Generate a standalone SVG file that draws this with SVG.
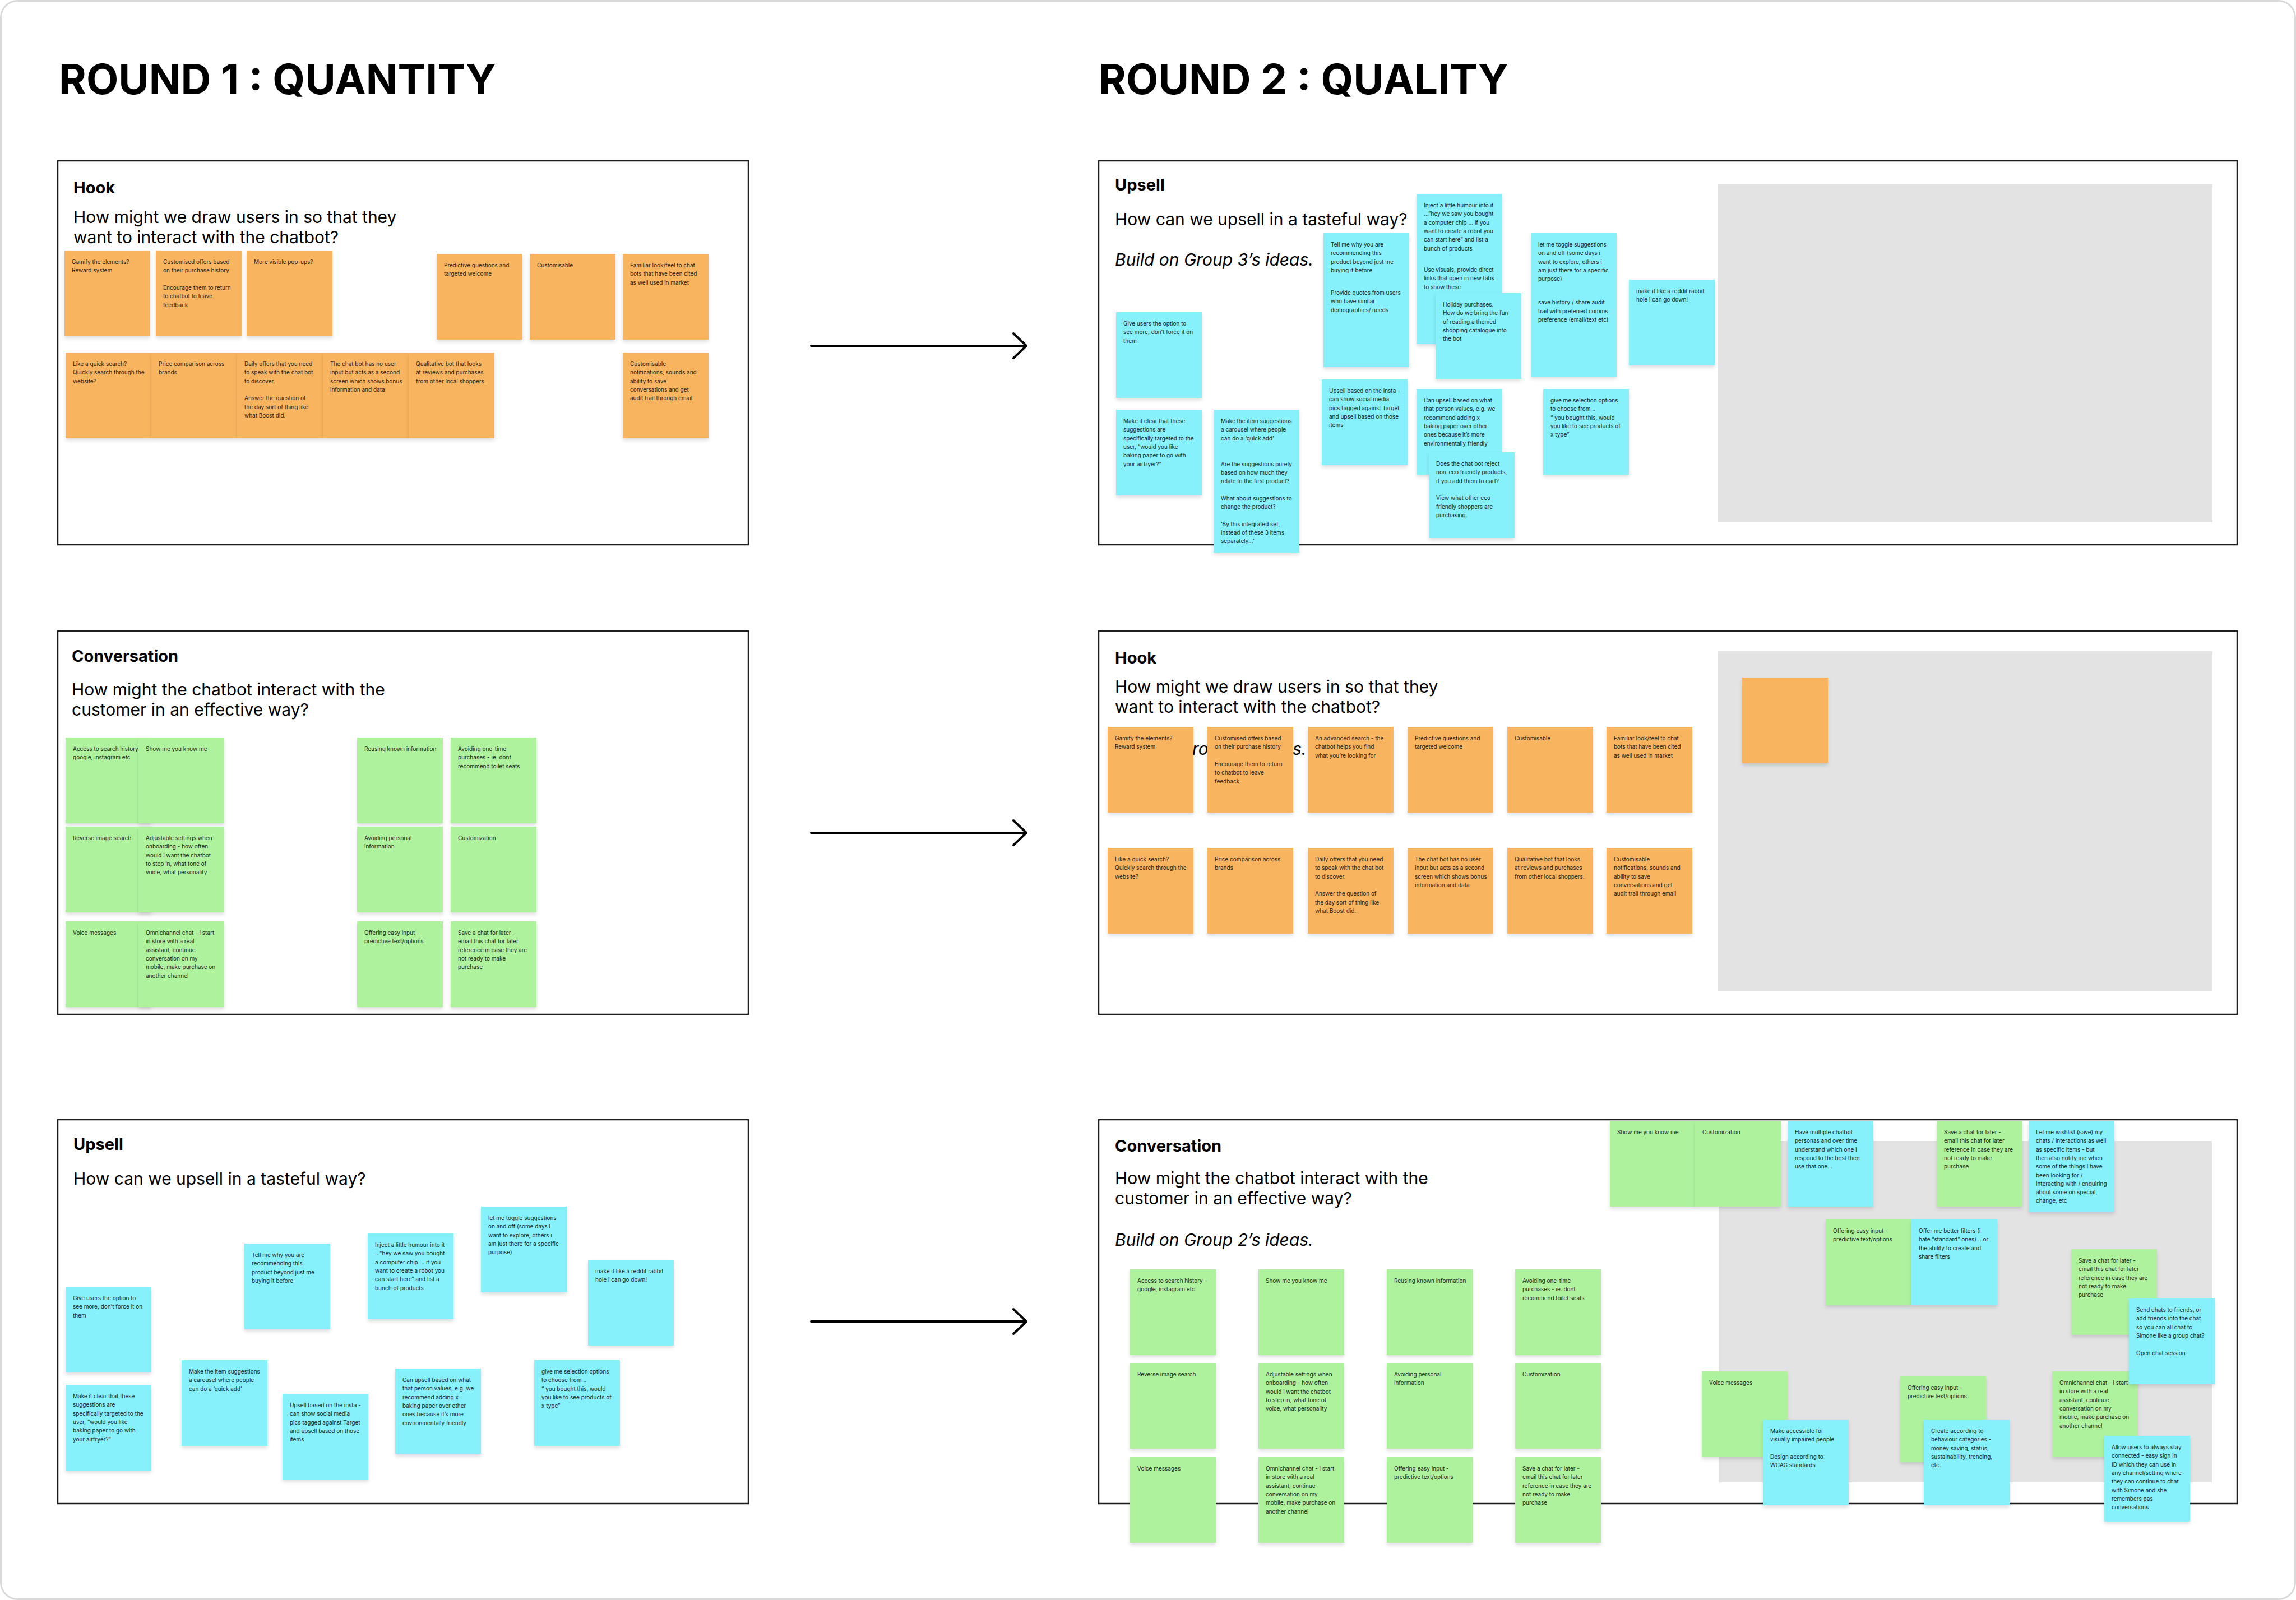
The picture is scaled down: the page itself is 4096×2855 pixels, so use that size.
<svg xmlns="http://www.w3.org/2000/svg" width="4096" height="2855" viewBox="0 0 4096 2855">
<style>
.t{font-family:Inter,'Liberation Sans',sans-serif;font-size:10px;fill:#1e1e1e}
.o{fill:#F9B45F;filter:url(#sh)}
.g{fill:#AFF29E;filter:url(#sh)}
.c{fill:#86F0FB;filter:url(#sh)}
.panel{fill:#fff;stroke:#1e1e1e;stroke-width:2.5}
.gray{fill:#E3E3E3}
.h{font-family:Inter,'Liberation Sans',sans-serif;font-size:29px;font-weight:700;fill:#000}
.q{font-family:Inter,'Liberation Sans',sans-serif;font-size:30px;fill:#000}
.qi{font-family:Inter,'Liberation Sans',sans-serif;font-size:30px;font-style:italic;fill:#000}
.title{font-family:Inter,'Liberation Sans',sans-serif;font-size:74px;font-weight:700;fill:#000}
.arrow{fill:none;stroke:#000;stroke-width:4;stroke-linecap:round;marker-end:url(#ah)}
</style>
<defs>
<filter id="sh" x="-10%" y="-10%" width="120%" height="130%">
<feDropShadow dx="0" dy="4" stdDeviation="3" flood-color="#000" flood-opacity="0.13"/>
</filter>
<marker id="ah" markerUnits="userSpaceOnUse" markerWidth="40" markerHeight="60" refX="30" refY="30" orient="auto" viewBox="0 0 40 60">
<path d="M7,8 L30,30 L7,52" fill="none" stroke="#000" stroke-width="4" stroke-linecap="round" stroke-linejoin="round"/>
</marker>
</defs>
<rect x="1.5" y="1.5" width="4093" height="2852" rx="30" fill="#fff" stroke="#d9d9d9" stroke-width="3"/>

<text class="title" x="105" y="168" textLength="780" lengthAdjust="spacingAndGlyphs">ROUND 1 : QUANTITY</text>
<text class="title" x="1960" y="168" textLength="731" lengthAdjust="spacingAndGlyphs">ROUND 2 : QUALITY</text>

<g id="connectors">
<path class="arrow" d="M1447,617 L1831,617"/>
<path class="arrow" d="M1447,1486 L1831,1486"/>
<path class="arrow" d="M1447,2358 L1831,2358"/>
</g>

<!-- ===== LEFT TOP: HOOK ===== -->
<g id="panel-l1">
<rect class="panel" x="103" y="287" width="1232" height="685"/>
<text class="h" x="131" y="345">Hook</text>
<text class="q" x="131" y="398">How might we draw users in so that they<tspan x="131" dy="36">want to interact with the chatbot?</tspan></text>
</g>
<g id="l1-n1"><rect class="o" x="115" y="447" width="153" height="153"/><text class="t" x="128" y="471">Gamify the elements?<tspan x="128" dy="15.3">Reward system</tspan></text></g>
<g id="l1-n2"><rect class="o" x="278" y="447" width="153" height="153"/><text class="t" x="291" y="471">Customised offers based<tspan x="291" dy="15.3">on their purchase history</tspan><tspan x="291" dy="30.6">Encourage them to return</tspan><tspan x="291" dy="15.3">to chatbot to leave</tspan><tspan x="291" dy="15.3">feedback</tspan></text></g>
<g id="l1-n3"><rect class="o" x="440" y="447" width="153" height="153"/><text class="t" x="453" y="471">More visible pop-ups?</text></g>
<g id="l1-n4"><rect class="o" x="779" y="453" width="153" height="153"/><text class="t" x="792" y="477">Predictive questions and<tspan x="792" dy="15.3">targeted welcome</tspan></text></g>
<g id="l1-n5"><rect class="o" x="945" y="453" width="153" height="153"/><text class="t" x="958" y="477">Customisable</text></g>
<g id="l1-n6"><rect class="o" x="1111" y="453" width="153" height="153"/><text class="t" x="1124" y="477">Familiar look/feel to chat<tspan x="1124" dy="15.3">bots that have been cited</tspan><tspan x="1124" dy="15.3">as well used in market</tspan></text></g>
<g id="l1-n7"><rect class="o" x="117" y="629" width="153" height="153"/><text class="t" x="130" y="653">Like a quick search?<tspan x="130" dy="15.3">Quickly search through the</tspan><tspan x="130" dy="15.3">website?</tspan></text></g>
<g id="l1-n8"><rect class="o" x="270" y="629" width="153" height="153"/><text class="t" x="283" y="653">Price comparison across<tspan x="283" dy="15.3">brands</tspan></text></g>
<g id="l1-n9"><rect class="o" x="423" y="629" width="153" height="153"/><text class="t" x="436" y="653">Daily offers that you need<tspan x="436" dy="15.3">to speak with the chat bot</tspan><tspan x="436" dy="15.3">to discover.</tspan><tspan x="436" dy="30.6">Answer the question of</tspan><tspan x="436" dy="15.3">the day sort of thing like</tspan><tspan x="436" dy="15.3">what Boost did.</tspan></text></g>
<g id="l1-n10"><rect class="o" x="576" y="629" width="153" height="153"/><text class="t" x="589" y="653">The chat bot has no user<tspan x="589" dy="15.3">input but acts as a second</tspan><tspan x="589" dy="15.3">screen which shows bonus</tspan><tspan x="589" dy="15.3">information and data</tspan></text></g>
<g id="l1-n11"><rect class="o" x="729" y="629" width="153" height="153"/><text class="t" x="742" y="653">Qualitative bot that looks<tspan x="742" dy="15.3">at reviews and purchases</tspan><tspan x="742" dy="15.3">from other local shoppers.</tspan></text></g>
<g id="l1-n12"><rect class="o" x="1111" y="629" width="153" height="153"/><text class="t" x="1124" y="653">Customisable<tspan x="1124" dy="15.3">notifications, sounds and</tspan><tspan x="1124" dy="15.3">ability to save</tspan><tspan x="1124" dy="15.3">conversations and get</tspan><tspan x="1124" dy="15.3">audit trail through email</tspan></text></g>

<!-- ===== LEFT MID: CONVERSATION ===== -->
<g id="panel-l2">
<rect class="panel" x="103" y="1126" width="1232" height="684"/>
<text class="h" x="128" y="1181">Conversation</text>
<text class="q" x="128" y="1241">How might the chatbot interact with the<tspan x="128" dy="36">customer in an effective way?</tspan></text>
</g>
<g id="l2-n1"><rect class="g" x="117" y="1316" width="153" height="153"/><text class="t" x="130" y="1340">Access to search history -<tspan x="130" dy="15.3">google, instagram etc</tspan></text></g>
<g id="l2-n2"><rect class="g" x="247" y="1316" width="153" height="153"/><text class="t" x="260" y="1340">Show me you know me</text></g>
<g id="l2-n3"><rect class="g" x="117" y="1475" width="153" height="153"/><text class="t" x="130" y="1499">Reverse image search</text></g>
<g id="l2-n4"><rect class="g" x="247" y="1475" width="153" height="153"/><text class="t" x="260" y="1499">Adjustable settings when<tspan x="260" dy="15.3">onboarding - how often</tspan><tspan x="260" dy="15.3">would i want the chatbot</tspan><tspan x="260" dy="15.3">to step in, what tone of</tspan><tspan x="260" dy="15.3">voice, what personality</tspan></text></g>
<g id="l2-n5"><rect class="g" x="117" y="1644" width="153" height="153"/><text class="t" x="130" y="1668">Voice messages</text></g>
<g id="l2-n6"><rect class="g" x="247" y="1644" width="153" height="153"/><text class="t" x="260" y="1668">Omnichannel chat - i start<tspan x="260" dy="15.3">in store with a real</tspan><tspan x="260" dy="15.3">assistant, continue</tspan><tspan x="260" dy="15.3">conversation on my</tspan><tspan x="260" dy="15.3">mobile, make purchase on</tspan><tspan x="260" dy="15.3">another channel</tspan></text></g>
<g id="l2-n7"><rect class="g" x="637" y="1316" width="153" height="153"/><text class="t" x="650" y="1340">Reusing known information</text></g>
<g id="l2-n8"><rect class="g" x="804" y="1316" width="153" height="153"/><text class="t" x="817" y="1340">Avoiding one-time<tspan x="817" dy="15.3">purchases - ie. dont</tspan><tspan x="817" dy="15.3">recommend toilet seats</tspan></text></g>
<g id="l2-n9"><rect class="g" x="637" y="1475" width="153" height="153"/><text class="t" x="650" y="1499">Avoiding personal<tspan x="650" dy="15.3">information</tspan></text></g>
<g id="l2-n10"><rect class="g" x="804" y="1475" width="153" height="153"/><text class="t" x="817" y="1499">Customization</text></g>
<g id="l2-n11"><rect class="g" x="637" y="1644" width="153" height="153"/><text class="t" x="650" y="1668">Offering easy input -<tspan x="650" dy="15.3">predictive text/options</tspan></text></g>
<g id="l2-n12"><rect class="g" x="804" y="1644" width="153" height="153"/><text class="t" x="817" y="1668">Save a chat for later -<tspan x="817" dy="15.3">email this chat for later</tspan><tspan x="817" dy="15.3">reference in case they are</tspan><tspan x="817" dy="15.3">not ready to make</tspan><tspan x="817" dy="15.3">purchase</tspan></text></g>

<!-- ===== LEFT BOTTOM: UPSELL ===== -->
<g id="panel-l3">
<rect class="panel" x="103" y="1998" width="1232" height="685"/>
<text class="h" x="131" y="2052">Upsell</text>
<text class="q" x="131" y="2114">How can we upsell in a tasteful way?</text>
</g>
<g id="l3-n1"><rect class="c" x="117" y="2296" width="153" height="153"/><text class="t" x="130" y="2320">Give users the option to<tspan x="130" dy="15.3">see more, don’t force it on</tspan><tspan x="130" dy="15.3">them</tspan></text></g>
<g id="l3-n2"><rect class="c" x="117" y="2471" width="153" height="153"/><text class="t" x="130" y="2495">Make it clear that these<tspan x="130" dy="15.3">suggestions are</tspan><tspan x="130" dy="15.3">specifically targeted to the</tspan><tspan x="130" dy="15.3">user, “would you like</tspan><tspan x="130" dy="15.3">baking paper to go with</tspan><tspan x="130" dy="15.3">your airfryer?”</tspan></text></g>
<g id="l3-n3"><rect class="c" x="436" y="2219" width="153" height="153"/><text class="t" x="449" y="2243">Tell me why you are<tspan x="449" dy="15.3">recommending this</tspan><tspan x="449" dy="15.3">product beyond just me</tspan><tspan x="449" dy="15.3">buying it before</tspan></text></g>
<g id="l3-n4"><rect class="c" x="324" y="2427" width="153" height="153"/><text class="t" x="337" y="2451">Make the item suggestions<tspan x="337" dy="15.3">a carousel where people</tspan><tspan x="337" dy="15.3">can do a ‘quick add’</tspan></text></g>
<g id="l3-n5"><rect class="c" x="656" y="2201" width="153" height="153"/><text class="t" x="669" y="2225">Inject a little humour into it<tspan x="669" dy="15.3">...”hey we saw you bought</tspan><tspan x="669" dy="15.3">a computer chip ...  if you</tspan><tspan x="669" dy="15.3">want to create a robot you</tspan><tspan x="669" dy="15.3">can start here” and list a</tspan><tspan x="669" dy="15.3">bunch of products</tspan></text></g>
<g id="l3-n6"><rect class="c" x="504" y="2487" width="153" height="153"/><text class="t" x="517" y="2511">Upsell based on the insta -<tspan x="517" dy="15.3">can show social media</tspan><tspan x="517" dy="15.3">pics tagged against Target</tspan><tspan x="517" dy="15.3">and upsell based on those</tspan><tspan x="517" dy="15.3">items</tspan></text></g>
<g id="l3-n7"><rect class="c" x="858" y="2153" width="153" height="153"/><text class="t" x="871" y="2177">let me toggle suggestions<tspan x="871" dy="15.3">on and off (some days i</tspan><tspan x="871" dy="15.3">want to explore, others i</tspan><tspan x="871" dy="15.3">am just there for a specific</tspan><tspan x="871" dy="15.3">purpose)</tspan></text></g>
<g id="l3-n8"><rect class="c" x="705" y="2442" width="153" height="153"/><text class="t" x="718" y="2466">Can upsell based on what<tspan x="718" dy="15.3">that person values, e.g. we</tspan><tspan x="718" dy="15.3">recommend adding x</tspan><tspan x="718" dy="15.3">baking paper over other</tspan><tspan x="718" dy="15.3">ones because it’s more</tspan><tspan x="718" dy="15.3">environmentally friendly</tspan></text></g>
<g id="l3-n9"><rect class="c" x="1049" y="2248" width="153" height="153"/><text class="t" x="1062" y="2272">make it like a reddit rabbit<tspan x="1062" dy="15.3">hole i can go down!</tspan></text></g>
<g id="l3-n10"><rect class="c" x="953" y="2427" width="153" height="153"/><text class="t" x="966" y="2451">give me selection options<tspan x="966" dy="15.3">to choose from ..</tspan><tspan x="966" dy="15.3">“ you bought this, would</tspan><tspan x="966" dy="15.3">you like to see products of</tspan><tspan x="966" dy="15.3">x type”</tspan></text></g>

<!-- ===== RIGHT TOP: UPSELL ===== -->
<g id="panel-r1">
<rect class="panel" x="1960" y="287" width="2031" height="685"/>
<rect class="gray" x="3064" y="329" width="883" height="603"/>
<text class="h" x="1989" y="340">Upsell</text>
<text class="q" x="1989" y="402">How can we upsell in a tasteful way?</text>
<text class="qi" x="1989" y="474">Build on Group 3’s ideas.</text>
</g>
<g id="r1-n1"><rect class="c" x="1991" y="557" width="153" height="153"/><text class="t" x="2004" y="581">Give users the option to<tspan x="2004" dy="15.3">see more, don’t force it on</tspan><tspan x="2004" dy="15.3">them</tspan></text></g>
<g id="r1-n2"><rect class="c" x="1991" y="731" width="153" height="153"/><text class="t" x="2004" y="755">Make it clear that these<tspan x="2004" dy="15.3">suggestions are</tspan><tspan x="2004" dy="15.3">specifically targeted to the</tspan><tspan x="2004" dy="15.3">user, “would you like</tspan><tspan x="2004" dy="15.3">baking paper to go with</tspan><tspan x="2004" dy="15.3">your airfryer?”</tspan></text></g>
<g id="r1-n3"><rect class="c" x="2165" y="731" width="153" height="255"/><text class="t" x="2178" y="755">Make the item suggestions<tspan x="2178" dy="15.3">a carousel where people</tspan><tspan x="2178" dy="15.3">can do a ‘quick add’</tspan><tspan x="2178" dy="45.9">Are the suggestions purely</tspan><tspan x="2178" dy="15.3">based on how much they</tspan><tspan x="2178" dy="15.3">relate to the first product?</tspan><tspan x="2178" dy="30.6">What about suggestions to</tspan><tspan x="2178" dy="15.3">change the product?</tspan><tspan x="2178" dy="30.6">‘By this integrated set,</tspan><tspan x="2178" dy="15.3">instead of these 3 items</tspan><tspan x="2178" dy="15.3">separately...’</tspan></text></g>
<g id="r1-n4"><rect class="c" x="2361" y="416" width="153" height="239"/><text class="t" x="2374" y="440">Tell me why you are<tspan x="2374" dy="15.3">recommending this</tspan><tspan x="2374" dy="15.3">product beyond just me</tspan><tspan x="2374" dy="15.3">buying it before</tspan><tspan x="2374" dy="40.2">Provide quotes from users</tspan><tspan x="2374" dy="15.3">who have similar</tspan><tspan x="2374" dy="15.3">demographics/ needs</tspan></text></g>
<g id="r1-n5"><rect class="c" x="2358" y="677" width="153" height="153"/><text class="t" x="2371" y="701">Upsell based on the insta -<tspan x="2371" dy="15.3">can show social media</tspan><tspan x="2371" dy="15.3">pics tagged against Target</tspan><tspan x="2371" dy="15.3">and upsell based on those</tspan><tspan x="2371" dy="15.3">items</tspan></text></g>
<g id="r1-n6"><rect class="c" x="2527" y="346" width="153" height="268"/><text class="t" x="2540" y="370">Inject a little humour into it<tspan x="2540" dy="15.3">...”hey we saw you bought</tspan><tspan x="2540" dy="15.3">a computer chip ...  if you</tspan><tspan x="2540" dy="15.3">want to create a robot you</tspan><tspan x="2540" dy="15.3">can start here” and list a</tspan><tspan x="2540" dy="15.3">bunch of products</tspan><tspan x="2540" dy="38.4">Use visuals, provide direct</tspan><tspan x="2540" dy="15.3">links that open in new tabs</tspan><tspan x="2540" dy="15.3">to show these</tspan></text></g>
<g id="r1-n7"><rect class="c" x="2561" y="523" width="153" height="153"/><text class="t" x="2574" y="547">Holiday purchases.<tspan x="2574" dy="15.3">How do we bring the fun</tspan><tspan x="2574" dy="15.3">of reading a themed</tspan><tspan x="2574" dy="15.3">shopping catalogue into</tspan><tspan x="2574" dy="15.3">the bot</tspan></text></g>
<g id="r1-n8"><rect class="c" x="2527" y="694" width="153" height="153"/><text class="t" x="2540" y="718">Can upsell based on what<tspan x="2540" dy="15.3">that person values, e.g. we</tspan><tspan x="2540" dy="15.3">recommend adding x</tspan><tspan x="2540" dy="15.3">baking paper over other</tspan><tspan x="2540" dy="15.3">ones because it’s more</tspan><tspan x="2540" dy="15.3">environmentally friendly</tspan></text></g>
<g id="r1-n9"><rect class="c" x="2549" y="807" width="153" height="153"/><text class="t" x="2562" y="831">Does the chat bot reject<tspan x="2562" dy="15.3">non-eco friendly products,</tspan><tspan x="2562" dy="15.3">if you add them to cart?</tspan><tspan x="2562" dy="30.6">View what other eco-</tspan><tspan x="2562" dy="15.3">friendly shoppers are</tspan><tspan x="2562" dy="15.3">purchasing.</tspan></text></g>
<g id="r1-n10"><rect class="c" x="2731" y="416" width="153" height="256"/><text class="t" x="2744" y="440">let me toggle suggestions<tspan x="2744" dy="15.3">on and off (some days i</tspan><tspan x="2744" dy="15.3">want to explore, others i</tspan><tspan x="2744" dy="15.3">am just there for a specific</tspan><tspan x="2744" dy="15.3">purpose)</tspan><tspan x="2744" dy="42">save history / share audit</tspan><tspan x="2744" dy="15.3">trail with preferred comms</tspan><tspan x="2744" dy="15.3">preference (email/text etc)</tspan></text></g>
<g id="r1-n11"><rect class="c" x="2906" y="499" width="153" height="153"/><text class="t" x="2919" y="523">make it like a reddit rabbit<tspan x="2919" dy="15.3">hole i can go down!</tspan></text></g>
<g id="r1-n12"><rect class="c" x="2753" y="694" width="153" height="153"/><text class="t" x="2766" y="718">give me selection options<tspan x="2766" dy="15.3">to choose from ..</tspan><tspan x="2766" dy="15.3">“ you bought this, would</tspan><tspan x="2766" dy="15.3">you like to see products of</tspan><tspan x="2766" dy="15.3">x type”</tspan></text></g>

<!-- ===== RIGHT MID: HOOK ===== -->
<g id="panel-r2">
<rect class="panel" x="1960" y="1126" width="2031" height="684"/>
<rect class="gray" x="3064" y="1162" width="883" height="606"/>
<text class="h" x="1989" y="1184">Hook</text>
<text class="q" x="1989" y="1236">How might we draw users in so that they<tspan x="1989" dy="36">want to interact with the chatbot?</tspan></text>
<text class="qi" x="2127" y="1347">ro</text>
<text class="qi" x="2306" y="1347">s.</text>
</g>
<g id="r2-n1"><rect class="o" x="1976" y="1297" width="153" height="153"/><text class="t" x="1989" y="1321">Gamify the elements?<tspan x="1989" dy="15.3">Reward system</tspan></text></g>
<g id="r2-n2"><rect class="o" x="2154" y="1297" width="153" height="153"/><text class="t" x="2167" y="1321">Customised offers based<tspan x="2167" dy="15.3">on their purchase history</tspan><tspan x="2167" dy="30.6">Encourage them to return</tspan><tspan x="2167" dy="15.3">to chatbot to leave</tspan><tspan x="2167" dy="15.3">feedback</tspan></text></g>
<g id="r2-n3"><rect class="o" x="2333" y="1297" width="153" height="153"/><text class="t" x="2346" y="1321">An advanced search - the<tspan x="2346" dy="15.3">chatbot helps you find</tspan><tspan x="2346" dy="15.3">what you’re looking for</tspan></text></g>
<g id="r2-n4"><rect class="o" x="2511" y="1297" width="153" height="153"/><text class="t" x="2524" y="1321">Predictive questions and<tspan x="2524" dy="15.3">targeted welcome</tspan></text></g>
<g id="r2-n5"><rect class="o" x="2689" y="1297" width="153" height="153"/><text class="t" x="2702" y="1321">Customisable</text></g>
<g id="r2-n6"><rect class="o" x="2866" y="1297" width="153" height="153"/><text class="t" x="2879" y="1321">Familiar look/feel to chat<tspan x="2879" dy="15.3">bots that have been cited</tspan><tspan x="2879" dy="15.3">as well used in market</tspan></text></g>
<g id="r2-n7"><rect class="o" x="1976" y="1513" width="153" height="153"/><text class="t" x="1989" y="1537">Like a quick search?<tspan x="1989" dy="15.3">Quickly search through the</tspan><tspan x="1989" dy="15.3">website?</tspan></text></g>
<g id="r2-n8"><rect class="o" x="2154" y="1513" width="153" height="153"/><text class="t" x="2167" y="1537">Price comparison across<tspan x="2167" dy="15.3">brands</tspan></text></g>
<g id="r2-n9"><rect class="o" x="2333" y="1513" width="153" height="153"/><text class="t" x="2346" y="1537">Daily offers that you need<tspan x="2346" dy="15.3">to speak with the chat bot</tspan><tspan x="2346" dy="15.3">to discover.</tspan><tspan x="2346" dy="30.6">Answer the question of</tspan><tspan x="2346" dy="15.3">the day sort of thing like</tspan><tspan x="2346" dy="15.3">what Boost did.</tspan></text></g>
<g id="r2-n10"><rect class="o" x="2511" y="1513" width="153" height="153"/><text class="t" x="2524" y="1537">The chat bot has no user<tspan x="2524" dy="15.3">input but acts as a second</tspan><tspan x="2524" dy="15.3">screen which shows bonus</tspan><tspan x="2524" dy="15.3">information and data</tspan></text></g>
<g id="r2-n11"><rect class="o" x="2689" y="1513" width="153" height="153"/><text class="t" x="2702" y="1537">Qualitative bot that looks<tspan x="2702" dy="15.3">at reviews and purchases</tspan><tspan x="2702" dy="15.3">from other local shoppers.</tspan></text></g>
<g id="r2-n12"><rect class="o" x="2866" y="1513" width="153" height="153"/><text class="t" x="2879" y="1537">Customisable<tspan x="2879" dy="15.3">notifications, sounds and</tspan><tspan x="2879" dy="15.3">ability to save</tspan><tspan x="2879" dy="15.3">conversations and get</tspan><tspan x="2879" dy="15.3">audit trail through email</tspan></text></g>
<g id="r2-n13"><rect class="o" x="3108" y="1209" width="153" height="153"/></g>

<!-- ===== RIGHT BOTTOM: CONVERSATION ===== -->
<g id="panel-r3">
<rect class="panel" x="1960" y="1998" width="2031" height="685"/>
<rect class="gray" x="3066" y="2036" width="880" height="609"/>
<text class="h" x="1989" y="2055">Conversation</text>
<text class="q" x="1989" y="2113">How might the chatbot interact with the<tspan x="1989" dy="36">customer in an effective way?</tspan></text>
<text class="qi" x="1989" y="2223">Build on Group 2’s ideas.</text>
</g>
<g id="r3-n1"><rect class="g" x="2016" y="2265" width="153" height="153"/><text class="t" x="2029" y="2289">Access to search history -<tspan x="2029" dy="15.3">google, instagram etc</tspan></text></g>
<g id="r3-n2"><rect class="g" x="2245" y="2265" width="153" height="153"/><text class="t" x="2258" y="2289">Show me you know me</text></g>
<g id="r3-n3"><rect class="g" x="2474" y="2265" width="153" height="153"/><text class="t" x="2487" y="2289">Reusing known information</text></g>
<g id="r3-n4"><rect class="g" x="2703" y="2265" width="153" height="153"/><text class="t" x="2716" y="2289">Avoiding one-time<tspan x="2716" dy="15.3">purchases - ie. dont</tspan><tspan x="2716" dy="15.3">recommend toilet seats</tspan></text></g>
<g id="r3-n5"><rect class="g" x="2016" y="2432" width="153" height="153"/><text class="t" x="2029" y="2456">Reverse image search</text></g>
<g id="r3-n6"><rect class="g" x="2245" y="2432" width="153" height="153"/><text class="t" x="2258" y="2456">Adjustable settings when<tspan x="2258" dy="15.3">onboarding - how often</tspan><tspan x="2258" dy="15.3">would i want the chatbot</tspan><tspan x="2258" dy="15.3">to step in, what tone of</tspan><tspan x="2258" dy="15.3">voice, what personality</tspan></text></g>
<g id="r3-n7"><rect class="g" x="2474" y="2432" width="153" height="153"/><text class="t" x="2487" y="2456">Avoiding personal<tspan x="2487" dy="15.3">information</tspan></text></g>
<g id="r3-n8"><rect class="g" x="2703" y="2432" width="153" height="153"/><text class="t" x="2716" y="2456">Customization</text></g>
<g id="r3-n9"><rect class="g" x="2016" y="2600" width="153" height="153"/><text class="t" x="2029" y="2624">Voice messages</text></g>
<g id="r3-n10"><rect class="g" x="2245" y="2600" width="153" height="153"/><text class="t" x="2258" y="2624">Omnichannel chat - i start<tspan x="2258" dy="15.3">in store with a real</tspan><tspan x="2258" dy="15.3">assistant, continue</tspan><tspan x="2258" dy="15.3">conversation on my</tspan><tspan x="2258" dy="15.3">mobile, make purchase on</tspan><tspan x="2258" dy="15.3">another channel</tspan></text></g>
<g id="r3-n11"><rect class="g" x="2474" y="2600" width="153" height="153"/><text class="t" x="2487" y="2624">Offering easy input -<tspan x="2487" dy="15.3">predictive text/options</tspan></text></g>
<g id="r3-n12"><rect class="g" x="2703" y="2600" width="153" height="153"/><text class="t" x="2716" y="2624">Save a chat for later -<tspan x="2716" dy="15.3">email this chat for later</tspan><tspan x="2716" dy="15.3">reference in case they are</tspan><tspan x="2716" dy="15.3">not ready to make</tspan><tspan x="2716" dy="15.3">purchase</tspan></text></g>

<g id="r3-n13"><rect class="g" x="2872" y="2000" width="153" height="153"/><text class="t" x="2885" y="2024">Show me you know me</text></g>
<g id="r3-n14"><rect class="g" x="3024" y="2000" width="153" height="153"/><text class="t" x="3037" y="2024">Customization</text></g>
<g id="r3-n15"><rect class="c" x="3189" y="2000" width="153" height="153"/><text class="t" x="3202" y="2024">Have multiple chatbot<tspan x="3202" dy="15.3">personas and over time</tspan><tspan x="3202" dy="15.3">understand which one I</tspan><tspan x="3202" dy="15.3">respond to the best then</tspan><tspan x="3202" dy="15.3">use that one...</tspan></text></g>
<g id="r3-n16"><rect class="g" x="3455" y="2000" width="153" height="153"/><text class="t" x="3468" y="2024">Save a chat for later -<tspan x="3468" dy="15.3">email this chat for later</tspan><tspan x="3468" dy="15.3">reference in case they are</tspan><tspan x="3468" dy="15.3">not ready to make</tspan><tspan x="3468" dy="15.3">purchase</tspan></text></g>
<g id="r3-n17"><rect class="c" x="3619" y="2000" width="153" height="163"/><text class="t" x="3632" y="2024">Let me wishlist (save) my<tspan x="3632" dy="15.3">chats / interactions as well</tspan><tspan x="3632" dy="15.3">as specific items - but</tspan><tspan x="3632" dy="15.3">then also notify me when</tspan><tspan x="3632" dy="15.3">some of the things i have</tspan><tspan x="3632" dy="15.3">been looking for /</tspan><tspan x="3632" dy="15.3">interacting with / enquiring</tspan><tspan x="3632" dy="15.3">about some on special,</tspan><tspan x="3632" dy="15.3">change, etc</tspan></text></g>
<g id="r3-n18"><rect class="g" x="3257" y="2176" width="153" height="153"/><text class="t" x="3270" y="2200">Offering easy input -<tspan x="3270" dy="15.3">predictive text/options</tspan></text></g>
<g id="r3-n19"><rect class="c" x="3410" y="2176" width="153" height="153"/><text class="t" x="3423" y="2200">Offer me better filters (i<tspan x="3423" dy="15.3">hate “standard” ones) .. or</tspan><tspan x="3423" dy="15.3">the ability to create and</tspan><tspan x="3423" dy="15.3">share filters</tspan></text></g>
<g id="r3-n20"><rect class="g" x="3695" y="2229" width="153" height="153"/><text class="t" x="3708" y="2253">Save a chat for later -<tspan x="3708" dy="15.3">email this chat for later</tspan><tspan x="3708" dy="15.3">reference in case they are</tspan><tspan x="3708" dy="15.3">not ready to make</tspan><tspan x="3708" dy="15.3">purchase</tspan></text></g>
<g id="r3-n21"><rect class="g" x="3036" y="2447" width="153" height="153"/><text class="t" x="3049" y="2471">Voice messages</text></g>
<g id="r3-n22"><rect class="c" x="3145" y="2533" width="153" height="153"/><text class="t" x="3158" y="2557">Make accessible for<tspan x="3158" dy="15.3">visually impaired people</tspan><tspan x="3158" dy="30.6">Design according to</tspan><tspan x="3158" dy="15.3">WCAG standards</tspan></text></g>
<g id="r3-n23"><rect class="g" x="3390" y="2456" width="153" height="153"/><text class="t" x="3403" y="2480">Offering easy input -<tspan x="3403" dy="15.3">predictive text/options</tspan></text></g>
<g id="r3-n24"><rect class="c" x="3432" y="2533" width="153" height="153"/><text class="t" x="3445" y="2557">Create according to<tspan x="3445" dy="15.3">behaviour categories -</tspan><tspan x="3445" dy="15.3">money saving, status,</tspan><tspan x="3445" dy="15.3">sustainability, trending,</tspan><tspan x="3445" dy="15.3">etc.</tspan></text></g>
<g id="r3-n25"><rect class="g" x="3661" y="2447" width="153" height="153"/><text class="t" x="3674" y="2471">Omnichannel chat - i start<tspan x="3674" dy="15.3">in store with a real</tspan><tspan x="3674" dy="15.3">assistant, continue</tspan><tspan x="3674" dy="15.3">conversation on my</tspan><tspan x="3674" dy="15.3">mobile, make purchase on</tspan><tspan x="3674" dy="15.3">another channel</tspan></text></g>
<g id="r3-n26"><rect class="c" x="3798" y="2317" width="153" height="153"/><text class="t" x="3811" y="2341">Send chats to friends, or<tspan x="3811" dy="15.3">add friends into the chat</tspan><tspan x="3811" dy="15.3">so you can all chat to</tspan><tspan x="3811" dy="15.3">Simone like a group chat?</tspan><tspan x="3811" dy="30.6">Open chat session</tspan></text></g>
<g id="r3-n27"><rect class="c" x="3754" y="2562" width="153" height="153"/><text class="t" x="3767" y="2586">Allow users to always stay<tspan x="3767" dy="15.3">connected - easy sign in</tspan><tspan x="3767" dy="15.3">ID which they can use in</tspan><tspan x="3767" dy="15.3">any channel/setting where</tspan><tspan x="3767" dy="15.3">they can continue to chat</tspan><tspan x="3767" dy="15.3">with Simone and she</tspan><tspan x="3767" dy="15.3">remembers pas</tspan><tspan x="3767" dy="15.3">conversations</tspan></text></g>
</svg>
